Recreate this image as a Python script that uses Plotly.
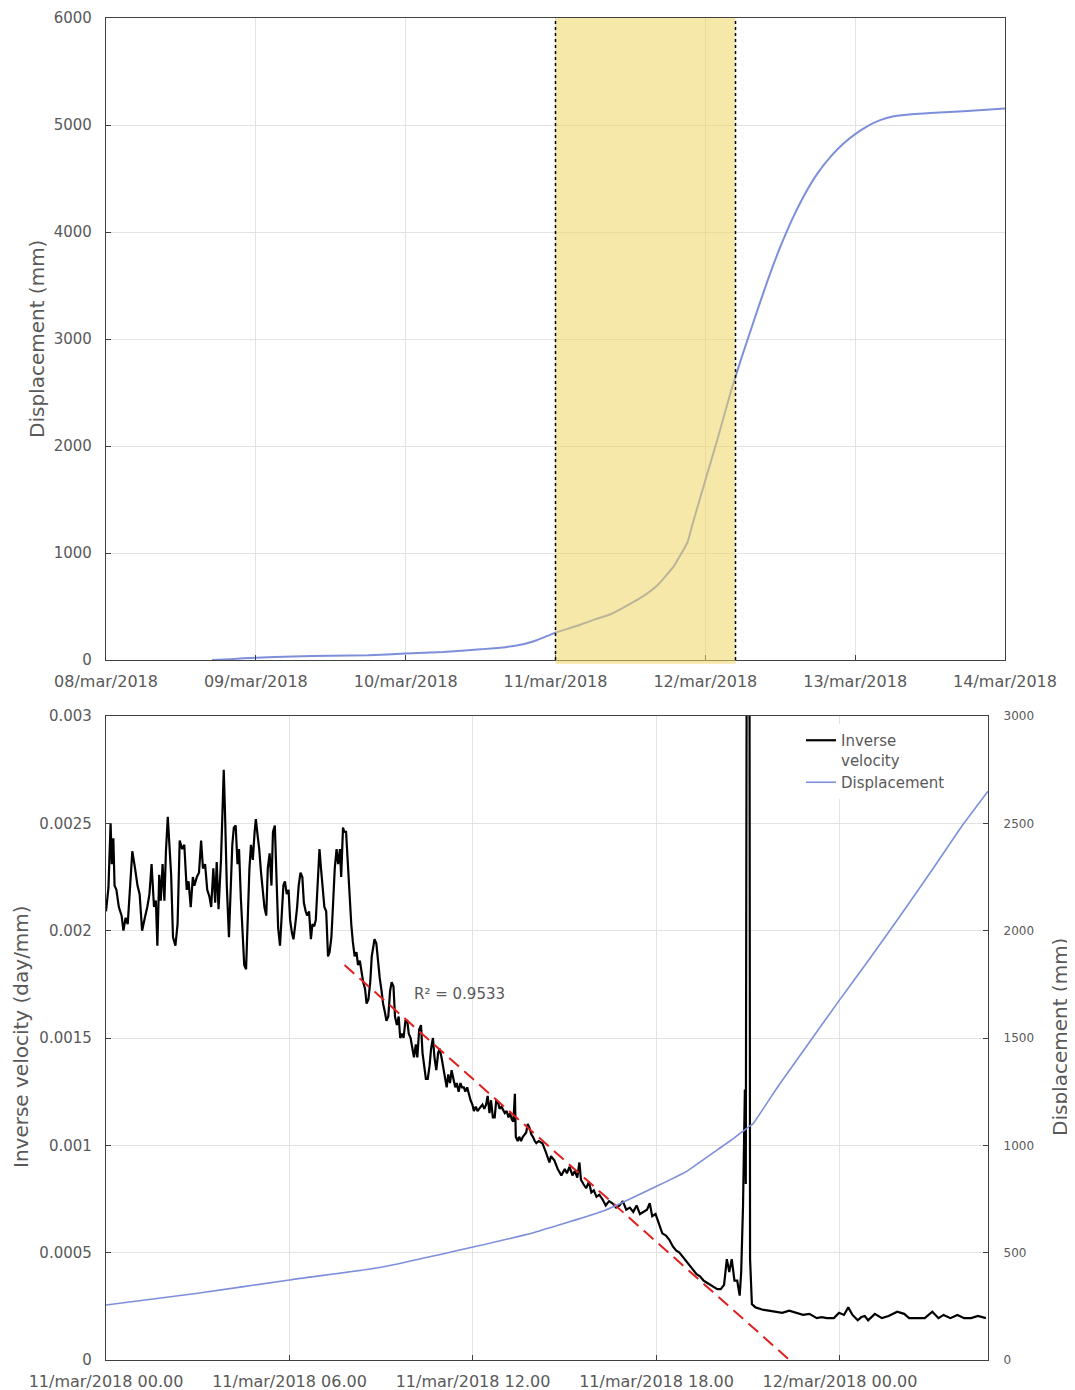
import pandas as pd
import plotly.graph_objects as go

# ---------------- data ----------------
# Top panel: cumulative displacement (mm)
top_time = ["2018-03-08 17:00", "2018-03-08 20:00", "2018-03-09 00:00", "2018-03-09 06:00",
            "2018-03-09 12:00", "2018-03-09 18:00", "2018-03-10 00:00", "2018-03-10 06:00",
            "2018-03-10 12:00", "2018-03-10 16:00", "2018-03-10 19:00", "2018-03-10 21:00",
            "2018-03-11 00:00", "2018-03-11 03:00", "2018-03-11 06:00", "2018-03-11 09:00",
            "2018-03-11 12:00", "2018-03-11 14:00", "2018-03-11 16:18", "2018-03-11 18:00",
            "2018-03-11 19:00", "2018-03-11 20:00", "2018-03-11 20:30", "2018-03-11 21:00",
            "2018-03-11 21:09", "2018-03-11 22:00", "2018-03-11 23:00", "2018-03-12 00:00",
            "2018-03-12 02:00", "2018-03-12 04:00", "2018-03-12 04:50", "2018-03-12 06:00",
            "2018-03-12 08:00", "2018-03-12 10:00", "2018-03-12 12:00", "2018-03-12 14:00",
            "2018-03-12 16:00", "2018-03-12 18:00", "2018-03-12 20:00", "2018-03-12 22:00",
            "2018-03-13 00:00", "2018-03-13 02:00", "2018-03-13 04:00", "2018-03-13 06:00",
            "2018-03-13 09:00", "2018-03-13 12:00", "2018-03-13 18:00", "2018-03-14 00:00"]
top_disp = [0, 8, 22, 33,
            40, 45, 60, 75,
            100, 120, 150, 185,
            256, 311, 373, 432,
            526, 594, 696, 809,
            880, 980, 1030, 1085,
            1100, 1280, 1480, 1680,
            2075, 2490, 2650, 2860,
            3210, 3550, 3860, 4130,
            4360, 4550, 4700, 4820,
            4915, 4990, 5045, 5080,
            5100, 5112, 5130, 5155]
top_day_ticks = ["2018-03-08", "2018-03-09", "2018-03-10", "2018-03-11",
                 "2018-03-12", "2018-03-13", "2018-03-14"]
top_day_labels = ["08/mar/2018", "09/mar/2018", "10/mar/2018", "11/mar/2018",
                  "12/mar/2018", "13/mar/2018", "14/mar/2018"]
shade_start = "2018-03-11 00:00"
shade_end = "2018-03-12 04:50"

# Bottom panel: hours since 11/mar/2018 00.00
base_time = "2018-03-11 00:00"
iv_hours = [
    0.00, 0.08, 0.15, 0.19, 0.24, 0.28, 0.34, 0.42, 0.51, 0.57, 0.64, 0.71, 0.79, 0.86, 0.95,
    1.03, 1.10, 1.18, 1.27, 1.35, 1.42, 1.49, 1.57, 1.63, 1.68, 1.74, 1.79, 1.85, 1.91, 1.96,
    2.02, 2.08, 2.13, 2.19, 2.27, 2.34, 2.41, 2.49, 2.56, 2.64, 2.70, 2.77, 2.84, 2.89, 2.97,
    3.04, 3.11, 3.17, 3.24, 3.31, 3.38, 3.44, 3.51, 3.57, 3.62, 3.68, 3.76, 3.81, 3.85, 3.89,
    3.95, 4.02, 4.07, 4.13, 4.18, 4.24, 4.30, 4.35, 4.41, 4.46, 4.52, 4.58, 4.63, 4.69, 4.74,
    4.80, 4.86, 4.90, 4.96, 5.01, 5.07, 5.13, 5.18, 5.24, 5.29, 5.35, 5.41, 5.46, 5.52, 5.57,
    5.63, 5.69, 5.74, 5.80, 5.85, 5.91, 5.97, 6.02, 6.08, 6.13, 6.19, 6.25, 6.30, 6.36, 6.42,
    6.47, 6.53, 6.58, 6.64, 6.70, 6.75, 6.81, 6.86, 6.92, 6.98, 7.03, 7.09, 7.14, 7.20, 7.26,
    7.31, 7.37, 7.42, 7.48, 7.54, 7.59, 7.65, 7.69, 7.75, 7.79, 7.85, 7.91, 7.96, 8.02, 8.07,
    8.13, 8.19, 8.24, 8.30, 8.36, 8.41, 8.47, 8.52, 8.58, 8.64, 8.69, 8.78, 8.84, 8.89, 8.95,
    9.01, 9.06, 9.12, 9.17, 9.23, 9.29, 9.34, 9.40, 9.45, 9.51, 9.57, 9.62, 9.68, 9.73, 9.79,
    9.85, 9.90, 9.96, 10.02, 10.07, 10.13, 10.18, 10.24, 10.30, 10.35, 10.41, 10.46, 10.52, 10.58, 10.63,
    10.69, 10.74, 10.80, 10.86, 10.91, 10.97, 11.02, 11.08, 11.14, 11.19, 11.25, 11.30, 11.36, 11.42, 11.47,
    11.53, 11.59, 11.64, 11.70, 11.75, 11.81, 11.87, 11.92, 11.98, 12.03, 12.09, 12.15, 12.20, 12.26, 12.31,
    12.37, 12.43, 12.48, 12.54, 12.59, 12.65, 12.71, 12.76, 12.82, 12.87, 12.93, 12.99, 13.04, 13.10, 13.16,
    13.21, 13.27, 13.32, 13.37, 13.40, 13.46, 13.51, 13.57, 13.63, 13.68, 13.74, 13.79, 13.85, 13.91, 13.96,
    14.02, 14.07, 14.15, 14.27, 14.38, 14.50, 14.55, 14.66, 14.77, 14.89, 15.00, 15.07, 15.16, 15.25, 15.33,
    15.41, 15.48, 15.53, 15.61, 15.70, 15.79, 15.87, 15.95, 16.04, 16.13, 16.23, 16.34, 16.45, 16.56, 16.68,
    16.79, 16.90, 17.01, 17.13, 17.24, 17.35, 17.46, 17.57, 17.69, 17.78, 17.86, 17.97, 18.08, 18.19, 18.31,
    18.42, 18.53, 18.64, 18.75, 18.86, 18.98, 19.09, 19.20, 19.31, 19.42, 19.54, 19.65, 19.76, 19.87, 19.99,
    20.10, 20.21, 20.30, 20.38, 20.46, 20.55, 20.64, 20.72, 20.77, 20.83, 20.89, 20.92, 20.97, 21.03, 21.06,
    21.12, 21.24, 21.45, 21.67, 21.89, 22.11, 22.34, 22.56, 22.79, 23.00, 23.24, 23.40, 23.57, 23.80, 23.97,
    24.13, 24.27, 24.41, 24.58, 24.70, 24.81, 24.92, 25.14, 25.37, 25.59, 25.87, 26.10, 26.26, 26.49, 26.77,
    27.02, 27.22, 27.39, 27.61, 27.84, 28.06, 28.29, 28.51, 28.77]
iv_values = [
    0.00209, 0.00220, 0.00250, 0.00231, 0.00243, 0.00221, 0.00219, 0.00211, 0.00207, 0.00200, 0.00206, 0.00203, 0.00221, 0.00237, 0.00229,
    0.00221, 0.00217, 0.00200, 0.00206, 0.00211, 0.00217, 0.00231, 0.00211, 0.00214, 0.00193, 0.00226, 0.00214, 0.00231, 0.00214, 0.00237,
    0.00253, 0.00238, 0.00226, 0.00197, 0.00193, 0.00203, 0.00242, 0.00238, 0.00240, 0.00219, 0.00223, 0.00211, 0.00225, 0.00221, 0.00225,
    0.00227, 0.00242, 0.00229, 0.00231, 0.00219, 0.00216, 0.00211, 0.00229, 0.00213, 0.00232, 0.00210, 0.00233, 0.00256, 0.00275, 0.00256,
    0.00221, 0.00197, 0.00213, 0.00240, 0.00248, 0.00249, 0.00231, 0.00238, 0.00215, 0.00201, 0.00184, 0.00182, 0.00209, 0.00229, 0.00240,
    0.00233, 0.00246, 0.00252, 0.00244, 0.00238, 0.00227, 0.00217, 0.00211, 0.00207, 0.00229, 0.00236, 0.00221, 0.00246, 0.00249, 0.00227,
    0.00201, 0.00193, 0.00205, 0.00221, 0.00223, 0.00217, 0.00219, 0.00205, 0.00199, 0.00196, 0.00203, 0.00211, 0.00221, 0.00227, 0.00225,
    0.00213, 0.00209, 0.00207, 0.00209, 0.00196, 0.00203, 0.00202, 0.00205, 0.00221, 0.00238, 0.00229, 0.00217, 0.00211, 0.00209, 0.00188,
    0.00190, 0.00197, 0.00211, 0.00229, 0.00238, 0.00231, 0.00238, 0.00225, 0.00248, 0.00246, 0.00246, 0.00231, 0.00213, 0.00203, 0.00195,
    0.00188, 0.00190, 0.00184, 0.00186, 0.00180, 0.00176, 0.00173, 0.00166, 0.00168, 0.00176, 0.00188, 0.00196, 0.00194, 0.00186, 0.00178,
    0.00172, 0.00166, 0.00162, 0.00158, 0.00160, 0.00172, 0.00176, 0.00174, 0.00160, 0.00156, 0.00160, 0.00150, 0.00152, 0.00150, 0.00158,
    0.00158, 0.00152, 0.00150, 0.00145, 0.00141, 0.00147, 0.00141, 0.00154, 0.00156, 0.00143, 0.00137, 0.00131, 0.00131, 0.00137, 0.00145,
    0.00150, 0.00141, 0.00135, 0.00143, 0.00145, 0.00141, 0.00137, 0.00131, 0.00127, 0.00133, 0.00129, 0.00135, 0.00131, 0.00127, 0.00129,
    0.00125, 0.00129, 0.00127, 0.00127, 0.00125, 0.00127, 0.00123, 0.00121, 0.00119, 0.00116, 0.00118, 0.00116, 0.00117, 0.00118, 0.00119,
    0.00117, 0.00119, 0.00123, 0.00115, 0.00121, 0.00113, 0.00113, 0.00121, 0.00120, 0.00117, 0.00118, 0.00116, 0.00115, 0.00116, 0.00113,
    0.00115, 0.00112, 0.00111, 0.00124, 0.00104, 0.00102, 0.00104, 0.00102, 0.00104, 0.00105, 0.00106, 0.00110, 0.00108, 0.00105, 0.00104,
    0.00102, 0.00101, 0.00102, 0.00101, 0.00097, 0.00092, 0.00095, 0.00093, 0.00089, 0.00086, 0.00089, 0.00087, 0.00090, 0.00086, 0.00088,
    0.00085, 0.00092, 0.00084, 0.00082, 0.00080, 0.00083, 0.00078, 0.00079, 0.00076, 0.00077, 0.00075, 0.00072, 0.00074, 0.00073, 0.00071,
    0.00072, 0.00074, 0.00070, 0.00071, 0.00069, 0.00072, 0.00068, 0.00069, 0.00070, 0.00073, 0.00067, 0.00068, 0.00063, 0.00059, 0.00058,
    0.00056, 0.00053, 0.00051, 0.00050, 0.00048, 0.00046, 0.00044, 0.00042, 0.00040, 0.00039, 0.00037, 0.00036, 0.00035, 0.00034, 0.00033,
    0.00033, 0.00035, 0.00047, 0.00041, 0.00047, 0.00037, 0.00037, 0.00030, 0.00041, 0.00072, 0.00126, 0.00082, 0.00500, 0.00500, 0.00047,
    0.00026, 0.000245, 0.000235, 0.00023, 0.000225, 0.00022, 0.00023, 0.00022, 0.00021, 0.000215, 0.000195, 0.00020, 0.000195, 0.000195, 0.00022,
    0.00021, 0.000245, 0.00021, 0.000185, 0.00020, 0.000205, 0.000185, 0.000215, 0.000195, 0.000205, 0.000225, 0.000215, 0.000195, 0.000195, 0.000195,
    0.000225, 0.000195, 0.00021, 0.000195, 0.00021, 0.000195, 0.000195, 0.000205, 0.000195]

disp_hours = [0, 3, 6, 9, 12, 14, 16.3, 18, 19, 20, 20.5, 21.0, 21.15,
              22.0, 23.0, 24.0, 25.0, 26.0, 27.0, 28.0, 28.84]
disp_values = [256, 311, 373, 432, 526, 594, 696, 809, 880, 980, 1030, 1085, 1100,
               1280, 1480, 1680, 1875, 2075, 2280, 2490, 2650]

trend_hours = [7.80, 22.35]
trend_values = [0.00184, 0.0]
r2_label = "R² = 0.9533"

bottom_tick_hours = [0, 6, 12, 18, 24]
bottom_tick_labels = ["11/mar/2018 00.00", "11/mar/2018 06.00", "11/mar/2018 12.00",
                      "11/mar/2018 18.00", "12/mar/2018 00.00"]
bottom_end_hours = 28.84
iv_ticks = [0, 0.0005, 0.001, 0.0015, 0.002, 0.0025, 0.003]
iv_tick_labels = ["0", "0.0005", "0.001", "0.0015", "0.002", "0.0025", "0.003"]

# ---------------- helpers ----------------
base = pd.Timestamp(base_time)
def to_time(hours):
    return [base + pd.Timedelta(hours=h) for h in hours]

OFF = 8  # page body margin
W, H = 1075 - OFF, 1390 - OFF
FONT = "DejaVu Sans, Verdana, sans-serif"
TXT = "#595959"
GRID = "#e3e3e3"
AXC = "#404040"
BLUE = "#7d8fdb"

def px_x(p):
    return (p - OFF) / W
def px_y(p):
    return 1 - (p - OFF) / H

fig = go.Figure()

# top displacement
fig.add_trace(go.Scatter(x=pd.to_datetime(top_time), y=top_disp, mode="lines",
                         line=dict(color=BLUE, width=2, shape="spline", smoothing=0.6),
                         xaxis="x", yaxis="y", showlegend=False))

# bottom: inverse velocity
fig.add_trace(go.Scatter(x=to_time(iv_hours), y=iv_values, mode="lines", name="Inverse<br>velocity",
                         line=dict(color="black", width=2.2), xaxis="x2", yaxis="y2"))
# trendline
fig.add_trace(go.Scatter(x=to_time(trend_hours), y=trend_values, mode="lines",
                         line=dict(color="#e0201f", width=2, dash="13px,7px"),
                         xaxis="x2", yaxis="y2", showlegend=False))
# displacement on secondary axis
fig.add_trace(go.Scatter(x=to_time(disp_hours), y=disp_values, mode="lines", name="Displacement",
                         line=dict(color=BLUE, width=1.6, shape="spline", smoothing=0.4),
                         xaxis="x2", yaxis="y3"))

def axis_style(size):
    return dict(showline=True, linecolor=AXC, linewidth=1.3, gridcolor=GRID, gridwidth=1,
                ticks="inside", ticklen=5, tickcolor=AXC, zeroline=False,
                tickfont=dict(family=FONT, size=size, color=TXT), automargin=False)

fig.update_layout(
    width=W, height=H,
    margin=dict(l=0, r=0, t=0, b=0),
    paper_bgcolor="white", plot_bgcolor="white",
    font=dict(family=FONT, color=TXT, size=15),
    xaxis=dict(domain=[px_x(106), px_x(1005)], anchor="y", type="date",
               range=[pd.Timestamp(top_day_ticks[0]), pd.Timestamp(top_day_ticks[-1])],
               tickmode="array", tickvals=pd.to_datetime(top_day_ticks), ticktext=top_day_labels,
               mirror=True, ticklabelstandoff=7, **axis_style(16)),
    yaxis=dict(domain=[px_y(660), px_y(18)], anchor="x", range=[0, 6000],
               tickmode="array", tickvals=[0, 1000, 2000, 3000, 4000, 5000, 6000],
               mirror=True, ticklabelstandoff=10, **axis_style(15)),
    xaxis2=dict(domain=[px_x(106), px_x(988)], anchor="y2", type="date",
                range=[base, base + pd.Timedelta(hours=bottom_end_hours)],
                tickmode="array", tickvals=to_time(bottom_tick_hours), ticktext=bottom_tick_labels,
                mirror=True, ticklabelstandoff=7, **axis_style(16)),
    yaxis2=dict(domain=[px_y(1360), px_y(716)], anchor="x2", range=[0, 0.003],
                tickmode="array", tickvals=iv_ticks, ticktext=iv_tick_labels,
                mirror=True, ticklabelstandoff=10, **axis_style(15)),
    yaxis3=dict(overlaying="y2", side="right", anchor="x2", range=[0, 3000],
                tickmode="array", tickvals=[0, 500, 1000, 1500, 2000, 2500, 3000],
                showgrid=False, showline=True, linecolor=AXC, linewidth=1.3,
                ticks="inside", ticklen=5, tickcolor=AXC, zeroline=False,
                tickfont=dict(family=FONT, size=12, color=TXT), ticklabelstandoff=12,
                automargin=False),
    legend=dict(x=px_x(801), y=px_y(724), xanchor="left", yanchor="top",
                bgcolor="white", borderwidth=0, valign="top",
                font=dict(family=FONT, size=15, color=TXT), tracegroupgap=6),
    shapes=[
        dict(type="rect", xref="x", yref="y domain", x0=shade_start, x1=shade_end,
             y0=-0.006, y1=1, fillcolor="rgba(236,214,98,0.55)", line=dict(width=0), layer="above"),
        dict(type="line", xref="x", yref="y domain", x0=shade_start, x1=shade_start, y0=0, y1=1,
             line=dict(color="black", width=1.5, dash="dot"), layer="above"),
        dict(type="line", xref="x", yref="y domain", x0=shade_end, x1=shade_end, y0=0, y1=1,
             line=dict(color="black", width=1.5, dash="dot"), layer="above"),
    ],
    annotations=[
        dict(text="Displacement (mm)", x=px_x(37), y=px_y(339), xref="paper", yref="paper",
             xanchor="center", yanchor="middle",
             textangle=-90, showarrow=False, font=dict(family=FONT, size=20, color=TXT)),
        dict(text="Inverse velocity (day/mm)", x=px_x(21), y=px_y(1037), xref="paper", yref="paper",
             xanchor="center", yanchor="middle",
             textangle=-90, showarrow=False, font=dict(family=FONT, size=20, color=TXT)),
        dict(text="Displacement (mm)", x=px_x(1060), y=px_y(1037), xref="paper", yref="paper",
             xanchor="center", yanchor="middle",
             textangle=-90, showarrow=False, font=dict(family=FONT, size=20, color=TXT)),
        dict(text=r2_label, x=base + pd.Timedelta(hours=11.55), y=0.001705, xref="x2", yref="y2",
             showarrow=False, font=dict(family=FONT, size=15, color=TXT)),
    ],
)

fig.write_html("out.html")
